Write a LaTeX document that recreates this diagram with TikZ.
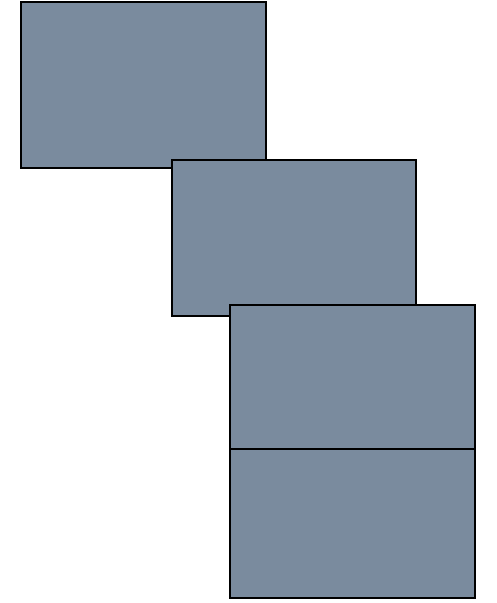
\documentclass[tikz,border=0pt]{standalone}
\definecolor{slate}{RGB}{122,139,158}
\begin{document}
\begin{tikzpicture}[x=1pt,y=-1pt,
  panel/.style={draw=black,fill=slate,line width=2.4pt}]
\useasboundingbox (0,0) rectangle (497,603);
\path[panel] (21,2) rectangle (266,168);
\path[panel] (172,160) rectangle (416,316);
\path[panel] (230,305) rectangle (475,449);
\path[panel] (230,449) rectangle (475,598);
\end{tikzpicture}
\end{document}
